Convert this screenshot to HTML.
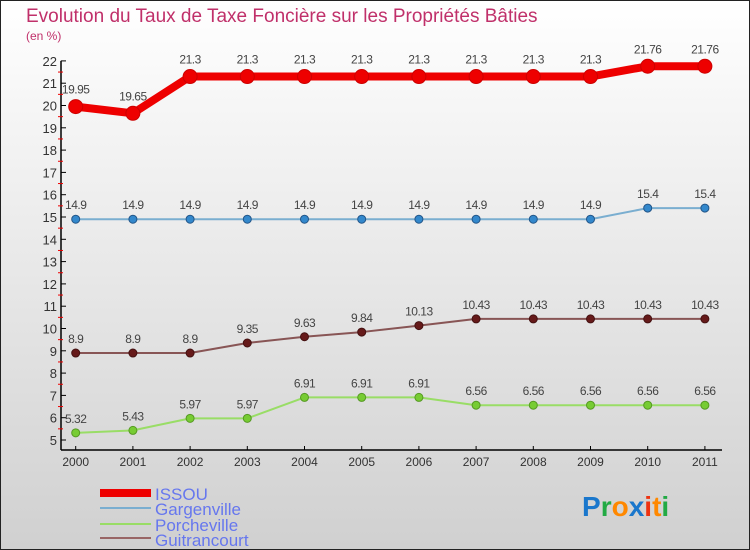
<!DOCTYPE html>
<html><head><meta charset="utf-8"><style>
body{margin:0}
svg{display:block;font-family:"Liberation Sans",sans-serif}
</style></head><body>
<svg width="750" height="550">
<defs><linearGradient id="bg" x1="0" y1="0" x2="0" y2="1"><stop offset="0" stop-color="#ffffff"/><stop offset="1" stop-color="#d0d0d0"/></linearGradient></defs>
<rect x="0.5" y="0.5" width="749" height="549" fill="url(#bg)" stroke="#222"/>
<text x="26" y="22" font-size="19" fill="#c0306a">Evolution du Taux de Taxe Foncière sur les Propriétés Bâties</text>
<text x="26" y="40" font-size="12" fill="#c0306a">(en %)</text>
<g id="axes"></g>
<g id="series"></g>
<g id="legend">
<rect x="100" y="489" width="51" height="8" fill="#e00"/>
<text x="155" y="500" font-size="17" fill="#6677ee">ISSOU</text>
<rect x="100" y="507" width="51" height="2" fill="#7aaed0"/>
<text x="155" y="515" font-size="17" fill="#6677ee">Gargenville</text>
<rect x="100" y="523" width="51" height="2" fill="#99dd66"/>
<text x="155" y="531" font-size="17" fill="#6677ee">Porcheville</text>
<rect x="100" y="537" width="51" height="2" fill="#996666"/>
<text x="155" y="546" font-size="17" fill="#6677ee">Guitrancourt</text>
</g>
<text x="582" y="516" font-size="28" font-weight="bold"><tspan fill="#1a77cc">P</tspan><tspan fill="#22aa44">r</tspan><tspan fill="#ff8800">o</tspan><tspan fill="#1a77cc">x</tspan><tspan fill="#ee3311">i</tspan><tspan fill="#ff8800">t</tspan><tspan fill="#22aa44">i</tspan></text>
</svg>
<script>
const years=["2000","2001","2002","2003","2004","2005","2006","2007","2008","2009","2010","2011"];
const yTicks=[5,6,7,8,9,10,11,12,13,14,15,16,17,18,19,20,21,22];
const issou=[19.95,19.65,21.3,21.3,21.3,21.3,21.3,21.3,21.3,21.3,21.76,21.76];
const gargenville=[14.9,14.9,14.9,14.9,14.9,14.9,14.9,14.9,14.9,14.9,15.4,15.4];
const porcheville=[5.32,5.43,5.97,5.97,6.91,6.91,6.91,6.56,6.56,6.56,6.56,6.56];
const guitrancourt=[8.9,8.9,8.9,9.35,9.63,9.84,10.13,10.43,10.43,10.43,10.43,10.43];
const NS="http://www.w3.org/2000/svg";
const xs=i=>75.7+i*57.2;
const ys=v=>440-(v-5)*22.3;
function mk(tag,attrs,parent){const e=document.createElementNS(NS,tag);for(const k in attrs)e.setAttribute(k,attrs[k]);parent.appendChild(e);return e;}
const ax=document.getElementById('axes');
let l=mk('line',{x1:61,y1:ys(22),x2:61,y2:450,stroke:'#000','stroke-width':1.5},ax);


l=mk('line',{x1:61,y1:450,x2:722,y2:450,stroke:'#000','stroke-width':1.5},ax);


yTicks.forEach(v=>{
 mk('line',{x1:61,y1:ys(v),x2:66,y2:ys(v),stroke:'#000'},ax);
 if(v<22){mk('line',{x1:58,y1:ys(v+0.5),x2:63,y2:ys(v+0.5),stroke:'#e00'},ax);}
 const t=mk('text',{x:57,y:ys(v)+5,'font-size':13,fill:'#333','text-anchor':'end'},ax);
 t.textContent=v;
 
 
});
years.forEach((y,i)=>{
 mk('line',{x1:xs(i),y1:446,x2:xs(i),y2:450,stroke:'#000'},ax);
 const t=mk('text',{x:xs(i),y:466,'font-size':12,fill:'#333','text-anchor':'middle'},ax);
 t.textContent=y;
 
 
});
const sg=document.getElementById('series');
function draw(vals,name,color,w,r,dot,dotStroke){
 const g=mk('g',{},sg);
 
 
 const p=mk('polyline',{points:vals.map((v,i)=>xs(i)+','+ys(v)).join(' '),fill:'none',stroke:color,'stroke-width':w,'stroke-linejoin':'round'},g);
 
 
 vals.forEach((v,i)=>{
  const c=mk('circle',{cx:xs(i),cy:ys(v),r:r,fill:dot,stroke:dotStroke,'stroke-width':1},g);
  
  
  const t=mk('text',{x:xs(i),y:ys(v)-(r+6),'font-size':12,fill:'#444','text-anchor':'middle','letter-spacing':'-0.5'},g);
  t.textContent=v;
  
  
 });
}
draw(porcheville,'porcheville','#99dd66',2,4,'#77cc33','#559922');
draw(guitrancourt,'guitrancourt','#885555',2,4,'#661a1a','#441111');
draw(gargenville,'gargenville','#7aaed0',2,4,'#3388cc','#225588');
draw(issou,'issou','#ee0000',8,7,'#ee0000','#cc0000');
</script>
</body></html>
